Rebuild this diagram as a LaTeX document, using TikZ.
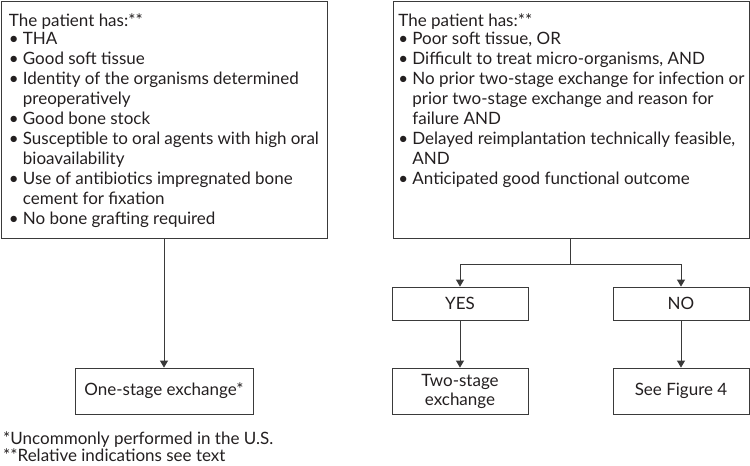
\documentclass[tikz,border=0pt]{standalone}
\usepackage{fontspec}
\setmainfont{Lato}
\usetikzlibrary{arrows.meta}
\definecolor{linec}{HTML}{3A3A3A}
\definecolor{txt}{HTML}{231F20}
\tikzset{
 box/.style={draw=linec, line width=0.8pt, inner sep=0pt, text=txt, align=center},
 bigbox/.style={draw=linec, line width=0.8pt, inner ysep=0pt, text=txt, anchor=north west},
 arr/.style={draw=linec, line width=0.8pt, -{Triangle[width=8pt,length=7pt]}},
 ln/.style={draw=linec, line width=0.8pt},
}
\newcommand{\bl}{\makebox[14pt][l]{\textbullet}}
\newcommand{\ind}{\hspace*{14pt}}
\begin{document}
\begin{tikzpicture}[x=1pt,y=1pt, font=\fontsize{17}{20}\selectfont]
\useasboundingbox (0,0) rectangle (750,-466);
\node[bigbox, inner xsep=8pt] (lbox) at (0.5,-0.5) {\parbox[c][237pt][t]{310pt}{\vspace*{12.5pt}%
The patient has:**\\[-2pt]
\bl THA\\
\bl Good soft tissue\\
\bl Identity of the organisms determined\\
\ind preoperatively\\
\bl Good bone stock\\
\bl Susceptible to oral agents with high oral\\
\ind bioavailability\\
\bl Use of antibiotics impregnated bone\\
\ind cement for fixation\\
\bl No bone grafting required}};
\node[bigbox, inner xsep=5pt] (rbox) at (393,-0.5) {\parbox[c][237pt][t]{346pt}{\vspace*{12.5pt}%
The patient has:**\\[-2pt]
\bl Poor soft tissue, OR\\
\bl Difficult to treat micro-organisms, AND\\
\bl No prior two-stage exchange for infection or\\
\ind prior two-stage exchange and reason for\\
\ind failure AND\\
\bl Delayed reimplantation technically feasible,\\
\ind AND\\
\bl Anticipated good functional outcome}};
\node[box, minimum width=178pt, minimum height=46pt] (one) at (164,-391) {One-stage exchange*};
\node[box, minimum width=136pt, minimum height=33pt] (yes) at (460,-303.5) {YES};
\node[box, minimum width=136pt, minimum height=33pt] (no) at (681,-303.5) {NO};
\node[box, minimum width=136pt, minimum height=46pt] (two) at (460,-391) {Two-stage\\[-1pt]exchange};
\node[box, minimum width=136pt, minimum height=46pt] (fig) at (681,-391) {See Figure 4};
\node[anchor=base west, align=left, text=txt, font=\fontsize{17}{15}\selectfont, inner sep=0pt] (fn) at (3,-461) {*Uncommonly performed in the U.S.\\**Relative indications see text};
\coordinate (split) at (570,-264);
\draw[arr] (lbox.south -| one.north) -- (one.north);
\draw[ln] (rbox.south -| split) -- (split);
\draw[arr] (split) -| (yes.north);
\draw[arr] (split) -| (no.north);
\draw[arr] (yes) -- (two);
\draw[arr] (no) -- (fig);
\end{tikzpicture}
\end{document}
